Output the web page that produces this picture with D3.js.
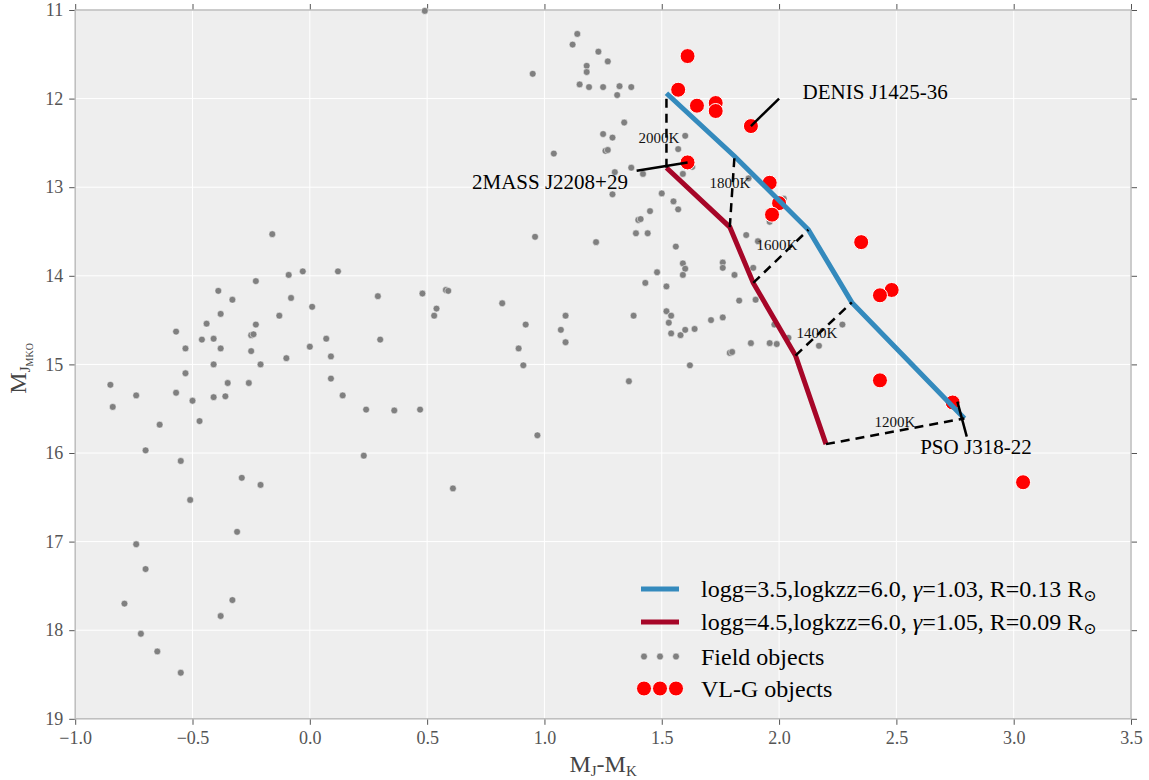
<!DOCTYPE html>
<html>
<head>
<meta charset="utf-8">
<script src="https://cdn.jsdelivr.net/npm/d3@7/dist/d3.min.js"></script>
<style>
  body { margin: 0; background: #fff; }
  text { font-family: "Liberation Serif", "DejaVu Serif", serif; }
</style>
</head>
<body>
<div class="chart-wrapper"></div>
<script>
// field objects (gray)
let fieldX = [-0.16,-0.09,-0.03,0.12,-0.23,-0.39,-0.33,-0.08,0.01,-0.38,-0.13,-0.44,-0.23,-0.57,-0.46,-0.41,-0.25,-0.24,0.07,-0.53,
  -0.38,-0.25,0.00,-0.10,0.09,-0.41,-0.21,-0.85,-0.53,-0.35,-0.26,0.09,-0.74,-0.57,-0.41,-0.36,0.14,-0.84,-0.50,-0.64,
  -0.47,-0.70,-0.55,-0.29,-0.21,-0.51,-0.31,-0.74,-0.70,-0.79,-0.33,-0.38,-0.72,-0.65,-0.55,0.96,0.29,0.48,0.58,0.59,
  0.54,0.53,0.82,0.92,1.09,1.07,1.09,0.89,0.91,0.30,0.24,0.36,0.47,0.23,0.61,0.97,1.14,1.12,1.23,1.27,
  1.18,1.18,0.95,1.15,1.19,1.25,1.32,1.37,1.31,1.34,1.25,1.29,1.26,1.27,1.04,1.60,1.57,1.37,1.30,1.42,
  1.59,1.63,1.29,1.50,1.55,1.57,1.45,1.40,1.41,1.39,1.44,1.22,1.56,1.86,1.87,1.91,1.76,1.76,1.59,1.60,
  1.59,1.48,1.43,1.52,1.81,1.89,1.83,1.90,1.38,1.52,1.54,1.53,1.54,1.58,1.60,1.64,1.71,1.76,1.88,1.96,
  1.99,1.79,1.80,1.98,2.04,1.62,2.17,2.27,1.36,2.02,1.96,0.49];
let fieldY = [13.53,13.99,13.95,13.95,14.06,14.17,14.27,14.25,14.35,14.43,14.45,14.54,14.55,14.63,14.72,14.71,14.67,14.66,14.71,14.82,
  14.82,14.85,14.80,14.93,14.91,15.00,15.00,15.23,15.10,15.21,15.21,15.16,15.35,15.32,15.37,15.36,15.35,15.48,15.41,15.68,
  15.64,15.97,16.09,16.28,16.36,16.53,16.89,17.03,17.31,17.70,17.66,17.84,18.04,18.24,18.48,13.56,14.23,14.20,14.16,14.17,
  14.37,14.45,14.31,14.55,14.45,14.61,14.75,14.82,15.01,14.72,15.51,15.52,15.51,16.03,16.40,15.80,11.27,11.39,11.47,11.58,
  11.63,11.70,11.72,11.84,11.87,11.87,11.86,11.87,11.96,12.27,12.40,12.44,12.59,12.58,12.62,12.42,12.57,12.78,12.83,12.85,
  12.85,12.77,13.08,13.07,13.16,13.25,13.27,13.37,13.36,13.52,13.52,13.62,13.67,13.54,12.90,13.61,13.85,13.91,13.86,13.92,
  13.99,13.96,14.08,14.12,13.99,13.91,14.28,14.27,14.45,14.40,14.45,14.53,14.65,14.67,14.61,14.60,14.50,14.47,14.76,14.76,
  14.77,14.87,14.86,14.55,14.70,15.01,14.79,14.55,15.19,13.13,13.39,11.01];

// VL-G objects (red)
let vlgX = [1.61,1.57,1.65,1.73,1.73,1.88,1.61,1.96,2.00,1.97,2.35,2.48,2.43,2.43,2.74,3.04];
let vlgY = [11.52,11.90,12.08,12.05,12.14,12.31,12.72,12.95,13.18,13.31,13.62,14.16,14.22,15.18,15.43,16.33];

// model tracks, one vertex per temperature
let teff = ["2000K","1800K","1600K","1400K","1200K"];
let lowGX = [1.52,1.81,2.125,2.31,2.79];
let lowGY = [11.94,12.65,13.48,14.30,15.61];
let highGX = [1.52,1.79,1.89,2.07,2.20];
let highGY = [12.78,13.45,14.08,14.90,15.90];
let teffLabelX = [1.488,1.791,1.991,2.161,2.494];
let teffLabelY = [12.445,12.953,13.652,14.646,15.650];

// named objects: point, end of pointer line, text position
let annNames = ["DENIS J1425-36","2MASS J2208+29","PSO J318-22"];
let annPoint = [[1.88,12.31],[1.61,12.72],[2.76,15.42]];
let annLineEnd = [[2.00,12.00],[1.393,12.814],[2.80,15.816]];
let annText = [[2.10,11.925],[1.356,12.938],[2.839,15.935]];
let annAnchor = ["start","end","middle"];

let xTicks = [-1.0,-0.5,0.0,0.5,1.0,1.5,2.0,2.5,3.0,3.5];
let yTicks = [11,12,13,14,15,16,17,18,19];

let W = 1149, H = 780;
let padL = 75.2, padR = 1131, padT = 10, padB = 718.8;
let blue = "#348ABD", crimson = "#A60628";

let svg = d3.select(".chart-wrapper").append("svg")
  .attr("width", W).attr("height", H);

let xScale = d3.scaleLinear().domain([-1, 3.5]).range([padL, padR]);
let yScale = d3.scaleLinear().domain([11, 19]).range([padT, padB]);

svg.append("rect")
  .attr("x", padL).attr("y", padT)
  .attr("width", padR-padL).attr("height", padB-padT)
  .attr("fill", "#EEEEEE");

// grid
svg.append("g").selectAll("line").data(xTicks).enter().append("line")
  .attr("x1", d=>xScale(d)).attr("x2", d=>xScale(d))
  .attr("y1", padT).attr("y2", padB)
  .attr("stroke", "#fff").attr("stroke-width", 1);
svg.append("g").selectAll("line").data(yTicks).enter().append("line")
  .attr("y1", d=>yScale(d)).attr("y2", d=>yScale(d))
  .attr("x1", padL).attr("x2", padR)
  .attr("stroke", "#fff").attr("stroke-width", 1);

// axes on all four sides
function fmtX(d){ return d3.format(".1f")(d).replace("-", "\u2212"); }
let axes = [
  [d3.axisBottom(xScale).tickValues(xTicks).tickFormat(fmtX), "translate(0,"+padB+")"],
  [d3.axisTop(xScale).tickValues(xTicks).tickFormat(""), "translate(0,"+padT+")"],
  [d3.axisLeft(yScale).tickValues(yTicks).tickFormat(d3.format("d")), "translate("+padL+",0)"],
  [d3.axisRight(yScale).tickValues(yTicks).tickFormat(""), "translate("+padR+",0)"]
];
axes.forEach(function(a){
  let g = svg.append("g").attr("transform", a[1]);
  g.call(a[0].tickSize(6).tickPadding(6));
  g.select(".domain").remove();
  g.selectAll(".tick line").attr("stroke", "#555").attr("stroke-width", 1);
  g.selectAll(".tick text").attr("fill", "#555").style("font-size", "18px")
    .style("font-family", "'Liberation Serif', serif");
});

svg.append("rect")
  .attr("x", padL).attr("y", padT)
  .attr("width", padR-padL).attr("height", padB-padT)
  .attr("fill", "none").attr("stroke", "#BCBCBC").attr("stroke-width", 1.5);

// field objects
let fieldData = fieldX.map((d,i)=>({x:d, y:fieldY[i]}));
svg.append("g").selectAll("circle").data(fieldData).enter().append("circle")
  .attr("cx", d=>xScale(d.x)).attr("cy", d=>yScale(d.y)).attr("r", 3.4)
  .attr("fill", "#808080").attr("stroke", "#fff").attr("stroke-width", 0.5);

// VL-G objects
let vlgData = vlgX.map((d,i)=>({x:d, y:vlgY[i]}));
svg.append("g").selectAll("circle").data(vlgData).enter().append("circle")
  .attr("cx", d=>xScale(d.x)).attr("cy", d=>yScale(d.y)).attr("r", 7.5)
  .attr("fill", "#FF0000").attr("stroke", "#fff").attr("stroke-width", 1);

// model tracks
let line = d3.line().x(d=>xScale(d[0])).y(d=>yScale(d[1]));
let lowG = lowGX.map((d,i)=>[d, lowGY[i]]);
let highG = highGX.map((d,i)=>[d, highGY[i]]);
svg.append("path").datum(lowG).attr("d", line)
  .attr("fill", "none").attr("stroke", blue).attr("stroke-width", 5);
svg.append("path").datum(highG).attr("d", line)
  .attr("fill", "none").attr("stroke", crimson).attr("stroke-width", 5);

// isotherms
svg.append("g").selectAll("line").data(teff).enter().append("line")
  .attr("x1", (d,i)=>xScale(highGX[i])).attr("y1", (d,i)=>yScale(highGY[i]))
  .attr("x2", (d,i)=>xScale(lowGX[i])).attr("y2", (d,i)=>yScale(lowGY[i]))
  .attr("stroke", "#000").attr("stroke-width", 2.5).attr("stroke-dasharray", "9,6");

svg.append("g").selectAll("text").data(teff).enter().append("text")
  .attr("x", (d,i)=>xScale(teffLabelX[i])).attr("y", (d,i)=>yScale(teffLabelY[i]))
  .attr("text-anchor", "middle").attr("dominant-baseline", "central")
  .style("font-size", "15px").attr("fill", "#111")
  .text(d=>d);

// annotations
annNames.forEach(function(name, i){
  svg.append("line")
    .attr("x1", xScale(annPoint[i][0])).attr("y1", yScale(annPoint[i][1]))
    .attr("x2", xScale(annLineEnd[i][0])).attr("y2", yScale(annLineEnd[i][1]))
    .attr("stroke", "#000").attr("stroke-width", 2.5);
  svg.append("text")
    .attr("x", xScale(annText[i][0])).attr("y", yScale(annText[i][1]))
    .attr("text-anchor", annAnchor[i]).attr("dominant-baseline", "central")
    .style("font-size", "21px").attr("fill", "#000")
    .text(name);
});

// legend
let legX = 641, legY = 589, legStep = 33;
let legend = svg.append("g");
[[blue, 0], [crimson, 1]].forEach(function(s){
  legend.append("line")
    .attr("x1", legX).attr("x2", legX+38)
    .attr("y1", legY+s[1]*legStep).attr("y2", legY+s[1]*legStep)
    .attr("stroke", s[0]).attr("stroke-width", 5);
});
[0,1,2].forEach(function(k){
  legend.append("circle").attr("cx", legX+3+k*16).attr("cy", legY+67.5).attr("r", 3.4)
    .attr("fill", "#808080").attr("stroke", "#fff").attr("stroke-width", 0.5);
});
[0,1,2].forEach(function(k){
  legend.append("circle").attr("cx", legX+3+k*16).attr("cy", legY+99.5).attr("r", 7.5)
    .attr("fill", "#FF0000").attr("stroke", "#fff").attr("stroke-width", 1);
});
let legendLabels = [["3.5","1.03","0.13"],["4.5","1.05","0.09"]];
legendLabels.forEach(function(l, i){
  let t = legend.append("text").attr("x", legX+60).attr("y", legY+i*legStep)
    .attr("dominant-baseline", "central").style("font-size", "24px");
  t.append("tspan").text("logg="+l[0]+",logkzz=6.0, ");
  t.append("tspan").style("font-style", "italic").text("\u03b3");
  t.append("tspan").text("="+l[1]+", R="+l[2]+" R");
  t.append("tspan").attr("dy", 6).style("font-size", "16px").text("\u2299");
});
legend.append("text").attr("x", legX+60).attr("y", legY+67.5)
  .attr("dominant-baseline", "central").style("font-size", "24px").text("Field objects");
legend.append("text").attr("x", legX+60).attr("y", legY+99.5)
  .attr("dominant-baseline", "central").style("font-size", "24px").text("VL-G objects");

// axis labels
let xl = svg.append("text").attr("x", (padL+padR)/2).attr("y", 772)
  .attr("text-anchor", "middle").attr("fill", "#444").style("font-size", "24px");
xl.append("tspan").text("M");
xl.append("tspan").attr("dy", 4).style("font-size", "15px").text("J");
xl.append("tspan").attr("dy", -4).text("-M");
xl.append("tspan").attr("dy", 4).style("font-size", "15px").text("K");

let yl = svg.append("text")
  .attr("transform", "translate(26,"+((padT+padB)/2+4)+") rotate(-90)")
  .attr("text-anchor", "middle").attr("fill", "#444").style("font-size", "24px");
yl.append("tspan").text("M");
yl.append("tspan").attr("dy", 4).style("font-size", "15px").text("J");
yl.append("tspan").attr("dy", 3).style("font-size", "10px").text("MKO");
</script>
</body>
</html>
